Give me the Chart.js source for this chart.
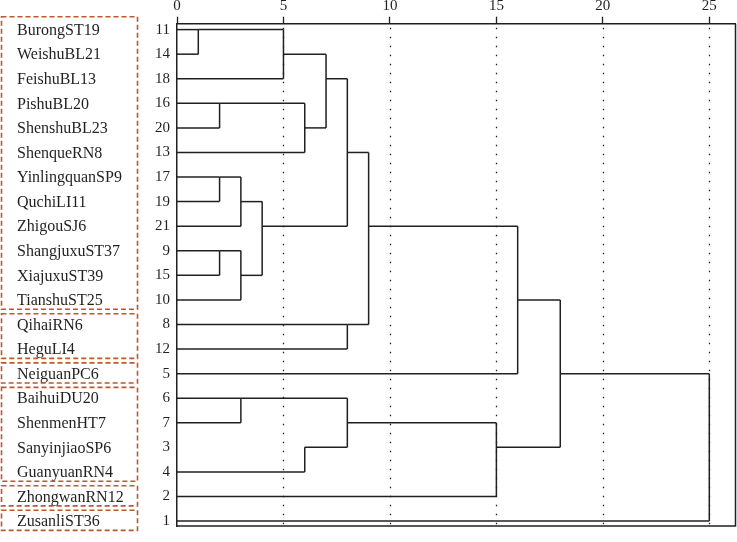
<!DOCTYPE html>
<html>
<head>
<meta charset="utf-8">
<script src="https://cdn.jsdelivr.net/npm/chart.js@4.4.0/dist/chart.umd.min.js"></script>
<style>
    html, body { margin: 0; padding: 0; background: #fff; }
    #wrap { width: 737px; height: 542px; }
</style>
</head>
<body>
<div id="wrap"><canvas id="dendroChart"></canvas></div>
<script>
// leaves, top to bottom
const leafIds = [11, 14, 18, 16, 20, 13, 17, 19, 21, 9, 15, 10, 8, 12, 5, 6, 7, 3, 4, 2, 1];
const leafNames = [
    "BurongST19", "WeishuBL21", "FeishuBL13", "PishuBL20", "ShenshuBL23", "ShenqueRN8",
    "YinlingquanSP9", "QuchiLI11", "ZhigouSJ6", "ShangjuxuST37", "XiajuxuST39", "TianshuST25",
    "QihaiRN6", "HeguLI4", "NeiguanPC6", "BaihuiDU20", "ShenmenHT7", "SanyinjiaoSP6",
    "GuanyuanRN4", "ZhongwanRN12", "ZusanliST36"
];

// merges: node 21+k joins mergeLeft[k] and mergeRight[k] (leaf rows < 21, else earlier nodes)
const mergeLeft   = [0, 21, 3, 23, 22, 6, 26, 9, 28, 27, 25, 12, 31, 33, 15, 17, 35, 37, 34, 39];
const mergeRight  = [1,  2, 4,  5, 24, 7,  8, 10, 11, 29, 30, 13, 32, 14, 16, 18, 36, 19, 38, 20];
const mergeHeight = [1,  5, 2,  6,  7, 2,  3,  2,  3,  4,  8,  8,  9, 16,  3,  6,  8, 15, 18, 25];

// rescaled distance ticks
const xTicks = [0, 5, 10, 15, 20, 25];

// dashed groups (row ranges)
const groupStart = [0, 12, 14, 15, 19, 20];
const groupEnd   = [11, 13, 14, 18, 19, 20];

// leaf row whose stub is not drawn in the source figure
const hiddenLeafStubs = [17];

const ink = "#231f20";

// build the elbow segments in data units (x = distance, y = row)
const nodeRow = leafIds.map((_, i) => i);
const nodeHeight = leafIds.map(() => 0);
const segments = [];
mergeHeight.forEach((h, k) => {
    const a = mergeLeft[k], b = mergeRight[k];
    [a, b].forEach(c => {
        if (c < leafIds.length && hiddenLeafStubs.includes(c)) return;
        segments.push([{ x: nodeHeight[c], y: nodeRow[c] }, { x: h, y: nodeRow[c] }]);
    });
    segments.push([{ x: h, y: nodeRow[a] }, { x: h, y: nodeRow[b] }]);
    nodeRow.push(Math.floor((nodeRow[a] + nodeRow[b]) / 2));
    nodeHeight.push(h);
});

const sidePlugin = {
    id: "side",
    beforeDatasetsDraw(chart) {
        // dotted reference lines at the distance ticks
        const { ctx, chartArea } = chart;
        const xS = chart.scales.x;
        ctx.save();
        ctx.strokeStyle = "#222";
        ctx.lineWidth = 1.3;
        ctx.setLineDash([1.5, 7.5]);
        xTicks.forEach(v => {
            if (v === 0) return;
            const px = Math.round(xS.getPixelForValue(v)) + 0.5;
            ctx.beginPath();
            ctx.moveTo(px, chartArea.top + 4);
            ctx.lineTo(px, chartArea.bottom);
            ctx.stroke();
        });
        ctx.restore();
    },
    afterDraw(chart) {
        const { ctx, chartArea } = chart;
        const yS = chart.scales.y;
        ctx.save();
        // right + bottom frame
        ctx.strokeStyle = ink;
        ctx.lineWidth = 1.5;
        ctx.beginPath();
        ctx.moveTo(chartArea.right, chartArea.top);
        ctx.lineTo(chartArea.right, chartArea.bottom);
        ctx.lineTo(chartArea.left, chartArea.bottom);
        ctx.stroke();

        // leaf names
        ctx.fillStyle = ink;
        ctx.font = '16px "Liberation Serif", serif';
        ctx.textAlign = "left";
        ctx.textBaseline = "middle";
        leafNames.forEach((name, i) => {
            ctx.fillText(name, 17, yS.getPixelForValue(i) + 1);
        });

        // dashed group boxes
        ctx.strokeStyle = "#c0562c";
        ctx.lineWidth = 1.6;
        ctx.setLineDash([5, 3]);
        groupStart.forEach((s, g) => {
            const top = yS.getPixelForValue(s - (g === 0 ? 0.52 : 0.44));
            const bottom = yS.getPixelForValue(groupEnd[g] + 0.38);
            ctx.strokeRect(1.5, top, 136, bottom - top);
        });
        ctx.restore();
    }
};

const ctx = document.getElementById("dendroChart").getContext("2d");
new Chart(ctx, {
    type: "scatter",
    data: {
        datasets: segments.map(seg => ({
            data: seg,
            showLine: true,
            borderColor: ink,
            borderWidth: 1.5,
            pointRadius: 0,
            pointHoverRadius: 0,
            clip: false
        }))
    },
    options: {
        responsive: true,
        maintainAspectRatio: false,
        animation: false,
        events: [],
        layout: { padding: { left: 0, top: 0, right: 1.5, bottom: 7.3 } },
        plugins: { legend: { display: false }, tooltip: { enabled: false } },
        scales: {
            x: {
                type: "linear",
                position: "top",
                min: 0,
                max: 26.23,
                afterBuildTicks: s => { s.ticks = xTicks.map(v => ({ value: v })); },
                afterFit: s => { s.height = 23.7; },
                ticks: {
                    color: ink,
                    padding: 2,
                    maxRotation: 0,
                    font: { family: "'Liberation Serif', serif", size: 15 }
                },
                grid: {
                    drawOnChartArea: false,
                    tickLength: 7,
                    color: ink,
                    tickColor: ink,
                    tickWidth: 1.3
                },
                border: { display: true, color: ink, width: 1.5 }
            },
            y: {
                type: "linear",
                reverse: true,
                min: -0.24,
                max: 20.2,
                afterBuildTicks: s => { s.ticks = leafIds.map((_, i) => ({ value: i })); },
                afterFit: s => { s.width = 177; },
                ticks: {
                    color: ink,
                    padding: 7,
                    callback: v => leafIds[v],
                    font: { family: "'Liberation Serif', serif", size: 15 }
                },
                grid: { drawOnChartArea: false, drawTicks: false },
                border: { display: true, color: ink, width: 1.5 }
            }
        }
    },
    plugins: [sidePlugin]
});
</script>
</body>
</html>
